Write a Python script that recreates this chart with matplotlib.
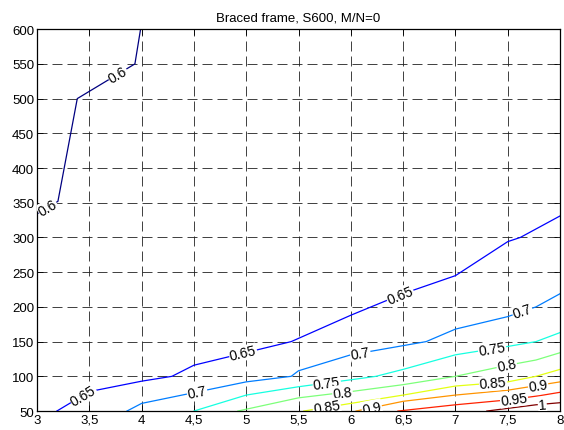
import numpy as np
import matplotlib
matplotlib.use("Agg")
import matplotlib.pyplot as plt

plt.rcParams['font.family'] = ['Liberation Sans', 'DejaVu Sans']

# contour levels and their polylines
levels = [0.6, 0.65, 0.7, 0.75, 0.8, 0.85, 0.9, 0.95, 1.0]

x_060 = [3.0, 3.2, 3.385, 3.936, 3.99]
y_060 = [334, 352, 500, 550, 600]
x_065 = [3.19, 3.5, 4.0, 4.29, 4.5, 5.43, 6.0, 6.5, 7.0, 7.5, 7.62, 8.0]
y_065 = [50, 78, 93, 100, 116, 150, 188, 219, 245, 294, 300, 331]
x_070 = [3.86, 4.0, 5.0, 5.43, 5.5, 6.0, 6.72, 7.0, 7.5, 7.77, 8.0]
y_070 = [50, 61, 92, 100, 108, 131, 150, 168, 186, 200, 219]
x_075 = [4.5, 5.0, 5.5, 6.0, 6.24, 6.5, 7.0, 7.5, 7.77, 8.0]
y_075 = [50, 73, 85, 95, 100, 110, 131, 143, 150, 163]
x_080 = [4.92, 5.5, 6.0, 6.5, 7.0, 7.5, 7.77, 8.0]
y_080 = [50, 69, 78, 88, 100, 116, 123.5, 134]
x_085 = [5.55, 6.0, 6.5, 7.0, 7.5, 7.77, 8.0]
y_085 = [50, 61, 73, 86, 92, 100, 110]
x_090 = [6.05, 6.5, 7.0, 7.5, 8.0]
y_090 = [50, 64, 73, 80, 92]
x_095 = [6.45, 7.0, 7.5, 7.8, 8.0]
y_095 = [50, 59, 66, 72, 77]
x_100 = [7.3, 7.77, 8.0]
y_100 = [50, 59, 62]

lines_x = [x_060, x_065, x_070, x_075, x_080, x_085, x_090, x_095, x_100]
lines_y = [y_060, y_065, y_070, y_075, y_080, y_085, y_090, y_095, y_100]

# where the inline labels sit (x position along each line)
label_x = [[3.1, 3.77], [3.44, 4.97, 6.47], [4.53, 6.09, 7.64], [5.77, 7.35],
           [5.92, 7.49], [5.77, 7.36], [6.2, 7.79], [7.56], [7.83]]
label_txt = ['0.6', '0.65', '0.7', '0.75', '0.8', '0.85', '0.9', '0.95', '1']

xticks = [3, 3.5, 4, 4.5, 5, 5.5, 6, 6.5, 7, 7.5, 8]
xticklabels = ['3', '3,5', '4', '4,5', '5', '5,5', '6', '6,5', '7', '7,5', '8']
yticks = [50, 100, 150, 200, 250, 300, 350, 400, 450, 500, 550, 600]

fig = plt.figure(figsize=(5.64, 4.31), dpi=100)
ax = fig.add_axes([0.0656, 0.044, 0.9274, 0.886])
ax.set_xlim(3, 8)
ax.set_ylim(50, 600)

norm = plt.Normalize(min(levels), max(levels))
for lev, xs, ys in zip(levels, lines_x, lines_y):
    ax.plot(xs, ys, color=plt.cm.jet(norm(lev)), linewidth=0.9, zorder=2)

ax.set_xticks(xticks)
ax.set_xticklabels(xticklabels)
ax.set_yticks(yticks)
ax.tick_params(direction='in', top=True, right=True, labelsize=9.5, length=4, width=0.6, pad=2)
ax.grid(True, color='#202020', linestyle=(0, (12, 6)), linewidth=0.6)
ax.set_axisbelow(True)
for s in ax.spines.values():
    s.set_linewidth(0.9)

ax.set_title('Braced frame, S600, M/N=0', fontsize=9.5, pad=6)

# inline labels rotated along the line
fig.canvas.draw()
for xs, ys, lxs, txt in zip(lines_x, lines_y, label_x, label_txt):
    xs = np.array(xs, dtype=float)
    ys = np.array(ys, dtype=float)
    for lx in lxs:
        ly = np.interp(lx, xs, ys)
        i = min(max(np.searchsorted(xs, lx) - 1, 0), len(xs) - 2)
        p0 = ax.transData.transform((xs[i], ys[i]))
        p1 = ax.transData.transform((xs[i + 1], ys[i + 1]))
        ang = np.degrees(np.arctan2(p1[1] - p0[1], p1[0] - p0[0]))
        if ang > 90:
            ang -= 180
        if ang < -90:
            ang += 180
        ax.text(lx, ly, txt, fontsize=10, rotation=ang, rotation_mode='anchor',
                ha='center', va='center', zorder=3, clip_on=True,
                bbox=dict(facecolor='white', edgecolor='none', pad=0.5))

fig.savefig('out.png', dpi=100)
